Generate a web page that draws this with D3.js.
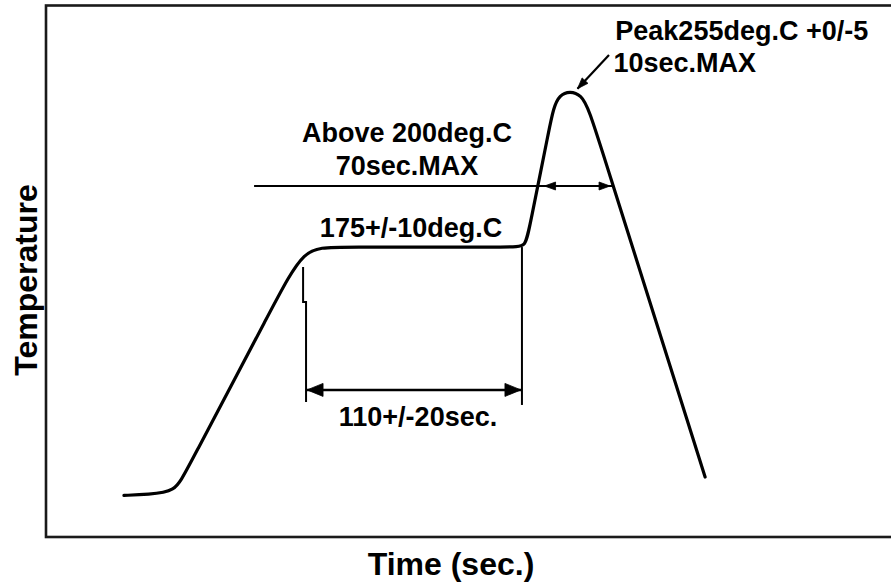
<!DOCTYPE html>
<html>
<head>
<meta charset="utf-8">
<script src="https://cdn.jsdelivr.net/npm/d3@7"></script>
<style>
  html, body { margin: 0; padding: 0; background: #fff; }
  svg { display: block; }
  text { font-family: "Liberation Sans", Arial, sans-serif; font-weight: bold; fill: #000; }
</style>
</head>
<body>
<svg id="chart" width="891" height="582"></svg>
<script>
// ---- Data (time in sec, temperature in deg.C) ----
// profile shape points (smoothed with a B-spline)
const profileTime = [36.9, 48.3, 61.3, 65.9, 108.0, 122.2, 136.3, 221.5, 227.0, 228.9,
  238.6, 241.8, 254.3, 259.4, 312.0];
const profileTemp = [23.5, 24.0, 25.7, 36.2, 131.6, 163.8, 163.8, 163.8, 163.8, 175.1,
  232.8, 252.0, 252.0, 232.8, 33.9];

// soak bracket (time, temperature)
const soakStartTime = [121.7, 123.1];     // jogged left leg
const soakLegTemp = [152.5, 132.8, 76.3]; // left leg top, jog, bottom
const soakEndTime = 225.3;
const soakEndTemp = [163.8, 74.6];
const soakArrowTemp = 83.1;

// above-200 line
const liqTemp = 198.3;
const liqLineTime = [98.5, 268.9];
const liqArrowTime = [236.0, 267.0];

// peak pointer
const peakPointerTime = [266.5, 251.6];
const peakPointerTemp = [272.3, 253.3];

const labels = ["Peak255deg.C +0/-5", "10sec.MAX", "Above 200deg.C", "70sec.MAX",
  "175+/-10deg.C", "110+/-20sec."];
const labelTime = [269.5, 268.6, 170.9, 170.9, 172.8, 176.1];
const labelTemp = [280.8, 262.7, 223.2, 204.5, 169.5, 62.7];
const labelAnchor = ["start", "start", "middle", "middle", "middle", "middle"];
const xTitle = "Time (sec.)";
const yTitle = "Temperature";

// ---- Scales ----
const svg = d3.select("#chart");
const x = d3.scaleLinear().domain([0, 400]).range([46, 891]);
const y = d3.scaleLinear().domain([0, 300]).range([537, 6]);

// frame
svg.append("rect")
  .attr("x", x(0)).attr("y", 5.5)
  .attr("width", 860).attr("height", y(0) - 5.5)
  .attr("fill", "none").attr("stroke", "#1a1a1a").attr("stroke-width", 2.6);

// profile curve
const pts = profileTime.map((t, i) => [t, profileTemp[i]]);
const line = d3.line().x(d => x(d[0])).y(d => y(d[1])).curve(d3.curveBasis);
svg.append("path").datum(pts)
  .attr("d", line)
  .attr("fill", "none").attr("stroke", "#000").attr("stroke-width", 3.2)
  .attr("stroke-linejoin", "round").attr("stroke-linecap", "round");

const g = svg.append("g").attr("stroke", "#000").attr("fill", "none");

// soak bracket legs
g.append("path")
  .attr("d", `M${x(soakStartTime[0])},${y(soakLegTemp[0])} V${y(soakLegTemp[1])} H${x(soakStartTime[1])} V${y(soakLegTemp[2])}`)
  .attr("stroke-width", 2);
g.append("line")
  .attr("x1", x(soakEndTime)).attr("x2", x(soakEndTime))
  .attr("y1", y(soakEndTemp[0])).attr("y2", y(soakEndTemp[1]))
  .attr("stroke-width", 2);

function arrowHead(tipX, tipY, dirX, dirY, len, half) {
  const bx = tipX - dirX * len, by = tipY - dirY * len;
  const px = -dirY, py = dirX;
  svg.append("path")
    .attr("d", `M${tipX},${tipY} L${bx + px * half},${by + py * half} L${bx - px * half},${by - py * half} Z`)
    .attr("fill", "#000").attr("stroke", "#000").attr("stroke-width", 0.8);
}

// soak arrow
const ax1 = x(soakStartTime[1]) + 1, ax2 = x(soakEndTime) - 1, ay = y(soakArrowTemp);
g.append("line").attr("x1", ax1).attr("x2", ax2).attr("y1", ay).attr("y2", ay).attr("stroke-width", 2.5);
arrowHead(ax1, ay, -1, 0, 16, 6.5);
arrowHead(ax2, ay, 1, 0, 16, 6.5);

// above-200 line and arrow
const ly = y(liqTemp);
g.append("line").attr("x1", x(liqLineTime[0])).attr("x2", x(liqLineTime[1]))
  .attr("y1", ly).attr("y2", ly).attr("stroke-width", 2.2);
arrowHead(x(liqArrowTime[0]), ly, -1, 0, 11, 4);
arrowHead(x(liqArrowTime[1]), ly, 1, 0, 11, 4);

// peak pointer
const p0x = x(peakPointerTime[0]), p0y = y(peakPointerTemp[0]);
const p1x = x(peakPointerTime[1]), p1y = y(peakPointerTemp[1]);
g.append("line").attr("x1", p0x).attr("y1", p0y).attr("x2", p1x).attr("y2", p1y).attr("stroke-width", 2.2);
const dl = Math.hypot(p1x - p0x, p1y - p0y);
arrowHead(p1x, p1y, (p1x - p0x) / dl, (p1y - p0y) / dl, 11, 4);

// labels
labels.forEach((s, i) => {
  svg.append("text")
    .attr("x", x(labelTime[i])).attr("y", y(labelTemp[i]))
    .attr("text-anchor", labelAnchor[i])
    .style("font-size", "27px")
    .text(s);
});

// axis titles
svg.append("text")
  .attr("x", 451).attr("y", 575)
  .attr("text-anchor", "middle")
  .style("font-size", "32px")
  .text(xTitle);
svg.append("text")
  .attr("transform", "translate(37,280) rotate(-90)")
  .attr("text-anchor", "middle")
  .style("font-size", "32px")
  .text(yTitle);
</script>
</body>
</html>
